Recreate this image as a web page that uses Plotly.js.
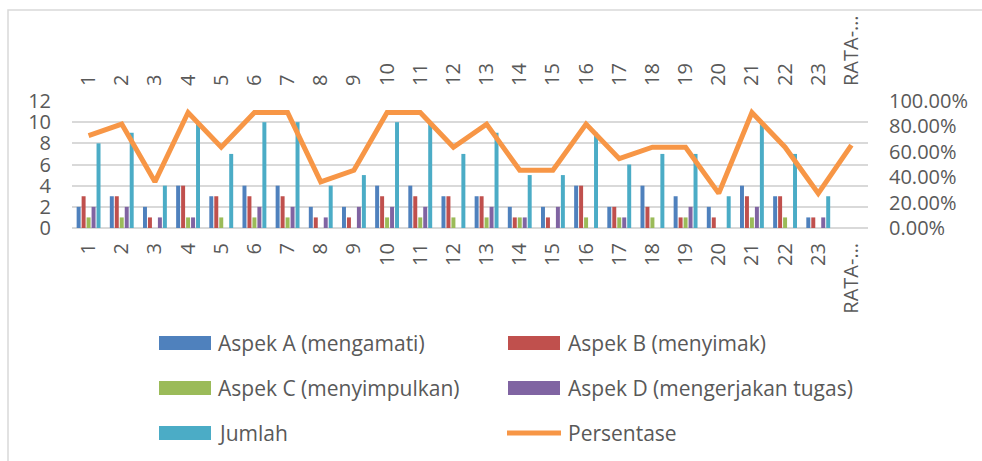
<!DOCTYPE html>
<html>
<head>
<meta charset="utf-8">
<script src="https://cdn.plot.ly/plotly-3.0.1.min.js"></script>
<style>
  html, body { margin: 0; padding: 0; background: #ffffff; }
  #chart { width: 982px; height: 461px; }
</style>
</head>
<body>
<div id="chart"></div>
<script>
// ---- data ----
const categories = ['1','2','3','4','5','6','7','8','9','10','11','12','13','14','15','16','17','18','19','20','21','22','23','RATA-…'];
const aspekA = [2,3,2,4,3,4,4,2,2,4,4,3,3,2,2,4,2,4,3,2,4,3,1,null];
const aspekB = [3,3,1,4,3,3,3,1,1,3,3,3,3,1,1,4,2,2,1,1,3,3,1,null];
const aspekC = [1,1,0,1,1,1,1,0,0,1,1,1,1,1,0,1,1,1,1,0,1,1,0,null];
const aspekD = [2,2,1,1,0,2,2,1,2,2,2,0,2,1,2,0,1,0,2,0,2,0,1,null];
const jumlah = [8,9,4,10,7,10,10,4,5,10,10,7,9,5,5,9,6,7,7,3,10,7,3,null];
const persentase = [0.7273,0.8182,0.3636,0.9091,0.6364,0.9091,0.9091,0.3636,0.4545,0.9091,0.9091,0.6364,0.8182,0.4545,0.4545,0.8182,0.5455,0.6364,0.6364,0.2727,0.9091,0.6364,0.2727,0.6522];
const seriesNames = ['Aspek A (mengamati)','Aspek B (menyimak)','Aspek C (menyimpulkan)','Aspek D (mengerjakan tugas)','Jumlah','Persentase'];
const leftTicks = [0,2,4,6,8,10,12];
const rightTicks = [0,0.2,0.4,0.6,0.8,1.0];

// ---- styling ----
const colors = ['#4F81BD','#C0504D','#9BBB59','#8064A2','#4BACC6','#F79646'];
const W = 982, H = 461;
const M = {l: 72, r: 114, t: 101, b: 233};
const PW = W - M.l - M.r, PH = H - M.t - M.b;
const px = x => (x - M.l) / PW;
const py = y => (H - M.b - y) / PH;
const FONT = 'Open Sans, Liberation Sans, sans-serif';
const TXT = '#595959';
const GRID = '#d9d9d9';

const barSeries = [aspekA, aspekB, aspekC, aspekD, jumlah];
const traces = barSeries.map((vals, i) => ({
  type: 'bar', x: categories, y: vals, name: seriesNames[i],
  marker: {color: colors[i]}, xaxis: 'x', yaxis: 'y', hoverinfo: 'y'
}));
traces.push({
  type: 'scatter', mode: 'lines', x: categories, y: persentase, name: seriesNames[5],
  line: {color: colors[5], width: 5}, xaxis: 'x2', yaxis: 'y2'
});

// manual legend (two columns, three rows)
const legendRows = [343, 388, 433];
const legendCols = [{r0: 159, r1: 211, t: 216}, {r0: 508, r1: 560, t: 566}];
const shapes = [];
const annotations = [];
seriesNames.forEach((nm, i) => {
  const row = Math.floor(i / 2), col = i % 2;
  const c = legendCols[col], yc = legendRows[row];
  if (i < 5) {
    shapes.push({type: 'rect', xref: 'paper', yref: 'paper',
      x0: px(c.r0), x1: px(c.r1), y0: py(yc + 7), y1: py(yc - 7),
      fillcolor: colors[i], line: {width: 0}});
  } else {
    shapes.push({type: 'line', xref: 'paper', yref: 'paper',
      x0: px(c.r0 - 1), x1: px(c.r1 + 1), y0: py(yc), y1: py(yc),
      line: {color: colors[i], width: 5}});
  }
  annotations.push({xref: 'paper', yref: 'paper', x: px(c.t), y: py(yc),
    xanchor: 'left', yanchor: 'middle', showarrow: false, text: nm,
    font: {family: FONT, size: 21, color: TXT}});
});
// chart frame
shapes.push({type: 'rect', xref: 'paper', yref: 'paper',
  x0: px(8), x1: px(1100), y0: py(600), y1: py(10),
  line: {color: GRID, width: 1.5}, fillcolor: 'rgba(0,0,0,0)', layer: 'below'});

const tickFont = {family: FONT, size: 20, color: TXT};
const layout = {
  width: W, height: H, margin: M,
  paper_bgcolor: '#ffffff', plot_bgcolor: '#ffffff',
  showlegend: false,
  barmode: 'group', bargap: 0.25, bargroupgap: 0.2,
  font: {family: FONT, color: TXT},
  xaxis: {type: 'category', categoryorder: 'array', categoryarray: categories,
    range: [-0.5, categories.length - 0.5], tickangle: -90, tickfont: tickFont,
    showgrid: false, zeroline: false, showline: false, ticks: '',
    ticklabelstandoff: 10, fixedrange: true},
  xaxis2: {type: 'category', categoryorder: 'array', categoryarray: categories,
    range: [-0.5, categories.length - 0.5], overlaying: 'x', side: 'top', anchor: 'y2',
    tickangle: -90, tickfont: tickFont, showgrid: false, zeroline: false, showline: false,
    ticks: '', ticklabelstandoff: 14, fixedrange: true},
  yaxis: {range: [0, 12], tickvals: leftTicks, tickfont: tickFont,
    showgrid: true, gridcolor: GRID, gridwidth: 2,
    zeroline: true, zerolinecolor: GRID, zerolinewidth: 2,
    showline: false, ticks: '', ticklabelstandoff: 20, fixedrange: true},
  yaxis2: {range: [0, 1], tickvals: rightTicks, tickformat: '.2%', tickfont: tickFont,
    overlaying: 'y', side: 'right', anchor: 'x2', showgrid: false, zeroline: false,
    showline: false, ticks: '', ticklabelstandoff: 20, fixedrange: true},
  shapes: shapes,
  annotations: annotations
};

Plotly.newPlot('chart', traces, layout, {displayModeBar: false, staticPlot: true});
</script>
</body>
</html>
